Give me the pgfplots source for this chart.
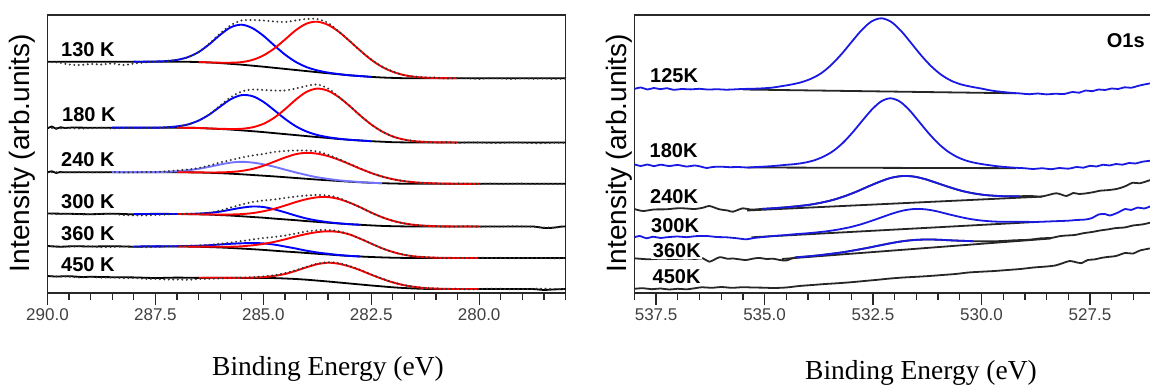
\documentclass[border=0pt]{standalone}
\usepackage{fontspec}
\setmainfont{Liberation Sans}
\newfontfamily\serifont{Liberation Serif}
\usepackage{pgfplots}
\pgfplotsset{compat=1.18}
\definecolor{myblue}{RGB}{0,0,255}
\definecolor{myred}{RGB}{255,0,0}
\definecolor{lblue}{RGB}{115,115,255}
\definecolor{oblue}{RGB}{25,25,225}
\definecolor{framec}{RGB}{40,40,40}
\pgfplotsset{
  panel/.style={
    anchor=south west, width=518pt, height=278pt, scale only axis,
    x dir=reverse, ymin=0, ymax=278,
    axis line style={line width=1.7pt, draw=framec},
    ytick=\empty, xtick pos=bottom, tick align=outside, xtick align=outside,
    major tick length=12pt, minor tick length=7pt,
    tick style={line width=1.3pt, draw=framec},
    major tick style={line width=1.3pt, draw=framec},
    minor tick style={line width=1.3pt, draw=framec},
    xticklabel style={font=\fontsize{17}{17}\selectfont, text=black!75},
  },
  bg/.style={black, line width=1.8pt, smooth},
  bl/.style={myblue, line width=1.9pt, smooth},
  rd/.style={myred, line width=1.9pt, smooth},
  env/.style={black!80, line width=2.2pt, smooth, line cap=round, dash pattern=on 0pt off 4.5pt},
  ob/.style={oblue, line width=1.8pt, smooth},
  ok/.style={black!85, line width=1.8pt, smooth},
}
\begin{document}
\begin{tikzpicture}[x=1pt,y=1pt]
\path[use as bounding box] (0,0) rectangle (1150,385);
% ================= LEFT PANEL =================
\begin{axis}[panel, at={(47.5pt,92pt)}, xmin=278, xmax=290,
  xtick={280,282.5,285,287.5,290}, xticklabels={280.0,282.5,285.0,287.5,290.0},
  minor xtick={278,278.5,...,290}]
% 130 K
\addplot[bg] coordinates {(290,231.3)(288,231.3)(287,231.3)(286.75,231.2)(286.5,230.9)(286.25,230.5)(286,229.9)(285.75,229.1)(285.5,228.3)(285.25,227.3)(285,226.3)(284.75,225.2)(284.5,224.1)(284.25,223.0)(284,221.9)(283.75,220.8)(283.5,219.7)(283.25,218.7)(283,217.7)(282.75,216.9)(282.5,216.1)(282.25,215.5)(282,215.1)(281.75,214.8)(281.5,214.7)(280,214.7)(278,214.7)};
\addplot[bl] coordinates {(288,231.3)(287.75,231.3)(287.5,231.5)(287.25,231.9)(287,233.1)(286.75,235.8)(286.5,240.9)(286.25,248.8)(286,258.2)(285.75,265.8)(285.5,268.3)(285.25,264.8)(285,257.3)(284.75,247.7)(284.5,238.5)(284.25,231.1)(284,225.9)(283.75,222.6)(283.5,220.4)(283.25,218.9)(283,217.7)(282.75,216.9)(282.5,216.1)};
\addplot[rd] coordinates {(286.5,230.9)(286.25,230.6)(286,230.3)(285.75,230.3)(285.5,230.9)(285.25,233.1)(285,237.5)(284.75,244.4)(284.5,253.4)(284.25,262.7)(284,269.4)(283.75,271.3)(283.5,268.1)(283.25,261.2)(283,251.9)(282.75,242.2)(282.5,233.2)(282.25,226.1)(282,221.2)(281.75,218.0)(281.5,216.2)(281.25,215.4)(281,215.0)(280.75,214.8)(280.5,214.7)};
\addplot[env] coordinates {(290,231.0)(289.75,230.5)(289.5,228.5)(289.25,228.0)(289,229.0)(288.75,228.5)(288.5,229.5)(288.25,228.0)(288,229.5)(287.75,230.5)(287.5,231.5)(287.25,232.0)(287,233.1)(286.75,235.8)(286.5,241.0)(286.25,249.5)(286,259.5)(285.75,268.0)(285.5,272.5)(285.25,273.0)(285,272.5)(284.75,271.5)(284.5,271.0)(284.25,272.5)(284,274.0)(283.75,274.0)(283.5,270.0)(283.25,261.4)(283,251.9)(282.75,242.2)(282.5,233.5)(282.25,226.5)(282,221.5)(281.75,218.0)(281.5,216.5)(281.25,215.5)(281,215.5)(280.75,214.5)(280.5,215.0)(280.25,214.5)(280,214.0)(279.75,214.8)(279.5,214.5)(279.25,214.0)(279,214.6)(278.75,214.2)(278.5,214.5)(278.25,214.0)(278,214.5)};
% 180 K
\addplot[bg] coordinates {(290,164.5)(289.9,166.5)(289.8,164.2)(289.7,165.8)(289.6,165.0)(289.4,165.5)(289,165.3)(287,165.3)(286.75,165.2)(286.5,165.0)(286.25,164.5)(286,164.0)(285.75,163.4)(285.5,162.6)(285.25,161.8)(285,160.9)(284.75,159.9)(284.5,158.9)(284.25,157.9)(284,156.9)(283.75,155.9)(283.5,155.0)(283.25,154.0)(283,153.2)(282.75,152.5)(282.5,151.8)(282.25,151.3)(282,150.8)(281.75,150.6)(281.5,150.5)(278,150.5)};
\addplot[bl] coordinates {(288.5,165.3)(287.5,165.4)(287.25,165.7)(287,166.6)(286.75,168.5)(286.5,172.4)(286.25,178.5)(286,186.4)(285.75,193.9)(285.5,197.9)(285.25,196.8)(285,191.2)(284.75,182.9)(284.5,174.2)(284.25,166.8)(284,161.5)(283.75,158.0)(283.5,155.8)(283.25,154.3)(283,153.2)(282.75,152.5)(282.5,151.8)};
\addplot[rd] coordinates {(287,165.3)(286.5,165.0)(286.25,164.5)(286,164.2)(285.75,164.0)(285.5,164.2)(285.25,165.7)(285,169.1)(284.75,175.2)(284.5,183.7)(284.25,193.3)(284,201.1)(283.75,204.4)(283.5,202.2)(283.25,195.8)(283,187.0)(282.75,177.3)(282.5,168.5)(282.25,161.5)(282,156.5)(281.75,153.5)(281.5,151.8)(281.25,151.1)(281,150.7)(280.5,150.5)};
\addplot[env] coordinates {(290,165.3)(289.75,164.8)(289.5,165.0)(289.25,164.5)(289,164.8)(288.75,165.2)(288.5,164.5)(288.25,165.0)(288,165.0)(287.75,164.8)(287.5,165.4)(287.25,165.7)(287,166.6)(286.75,168.5)(286.5,172.4)(286.25,178.5)(286,187.5)(285.75,196.0)(285.5,201.5)(285.25,203.5)(285,203.0)(284.75,202.5)(284.5,202.5)(284.25,204.5)(284,207.0)(283.75,208.5)(283.5,204.5)(283.25,196.1)(283,187.0)(282.75,177.3)(282.5,168.5)(282.25,161.5)(282,156.5)(281.75,153.5)(281.5,152.0)(281.25,151.0)(281,150.5)(280.75,150.8)(280.5,150.0)(280.25,150.6)(280,150.5)(279.75,150.0)(279.5,150.0)(279.25,150.5)(279,150.3)(278.75,149.8)(278.5,149.8)(278.25,150.3)(278,150.2)};
% 240 K
\addplot[bg] coordinates {(290,120.5)(289.9,121.8)(289.8,120.0)(289.7,121.0)(289.5,120.8)(287,120.8)(286.75,120.7)(286.5,120.5)(286.25,120.2)(286,119.8)(285.75,119.3)(285.5,118.7)(285.25,118.0)(285,117.3)(284.75,116.6)(284.5,115.8)(284.25,115.0)(284,114.2)(283.75,113.4)(283.5,112.7)(283.25,112.0)(283,111.3)(282.75,110.7)(282.5,110.2)(282.25,109.8)(282,109.5)(281.75,109.3)(281.5,109.2)(278,109.2)};
\addplot[lblue, line width=1.9pt, smooth] coordinates {(288.5,120.8)(287.5,120.9)(287.25,121.2)(287,121.7)(286.75,122.7)(286.5,124.2)(286.25,126.2)(286,128.5)(285.75,130.4)(285.5,131.2)(285.25,130.4)(285,128.7)(284.75,126.3)(284.5,123.4)(284.25,120.6)(284,118.0)(283.75,115.7)(283.5,114.1)(283.25,112.7)(283,111.7)(282.75,110.9)(282.5,110.2)(282.25,109.8)};
\addplot[rd] coordinates {(287,120.8)(286.5,120.6)(286.25,120.5)(286,120.6)(285.75,121.0)(285.5,122.1)(285.25,124.1)(285,127.2)(284.75,131.3)(284.5,135.4)(284.25,138.8)(284,140.2)(283.75,139.3)(283.5,136.9)(283.25,133.2)(283,128.8)(282.75,124.2)(282.5,120.0)(282.25,116.5)(282,113.8)(281.75,111.9)(281.5,110.7)(281.25,110.0)(281,109.6)(280.75,109.4)(280.5,109.2)(280,109.2)};
\addplot[env] coordinates {(290,120.5)(289.75,120.8)(289.5,120.6)(289.25,121.0)(289,120.6)(288.75,120.8)(288.5,121.0)(288.25,120.6)(288,120.7)(287.75,121.0)(287.5,121.0)(287.25,121.6)(287,122.6)(286.75,123.5)(286.5,125.0)(286.25,127.5)(286,130.5)(285.75,133.0)(285.5,135.5)(285.25,137.5)(285,139.0)(284.75,141.0)(284.5,142.0)(284.25,142.5)(284,142.5)(283.75,141.5)(283.5,138.3)(283.25,133.9)(283,129.2)(282.75,124.4)(282.5,120.0)(282.25,116.5)(282,113.8)(281.75,112.0)(281.5,110.7)(281.25,110.0)(281,109.6)(280.75,109.0)(280.5,109.5)(280.25,109.2)(280,109.0)(279.75,109.6)(279.5,109.0)(279.25,109.3)(279,109.5)(278.75,109.0)(278.5,109.2)(278.25,109.0)(278,109.3)};
% 300 K
\addplot[bg] coordinates {(290,79.5)(289.5,79.2)(289,78.8)(288.5,79.3)(288,78.7)(287.5,79.2)(287,79.0)(286.75,78.9)(286.5,78.7)(286.25,78.4)(286,77.9)(285.75,77.4)(285.5,76.7)(285.25,76.0)(285,75.3)(284.75,74.4)(284.5,73.6)(284.25,72.8)(284,71.9)(283.75,71.1)(283.5,70.3)(283.25,69.5)(283,68.8)(282.75,68.2)(282.5,67.6)(282.25,67.1)(282,66.8)(281.75,66.6)(281.5,66.5)(279,66.5)(278.7,66.3)(278.5,65.0)(278.3,65.2)(278.1,66.4)(278,66.5)};
\addplot[bl] coordinates {(288,79.0)(287,79.0)(286.75,79.1)(286.5,79.4)(286.25,80.1)(286,81.4)(285.75,83.4)(285.5,85.3)(285.25,86.5)(285,86.0)(284.75,83.7)(284.5,80.7)(284.25,77.4)(284,74.5)(283.75,72.4)(283.5,70.8)(283.25,69.7)(283,68.8)(282.75,68.2)};
\addplot[rd] coordinates {(287,79.0)(286.5,78.7)(286.25,78.6)(286,78.4)(285.75,78.5)(285.5,78.9)(285.25,79.9)(285,81.7)(284.75,84.2)(284.5,87.4)(284.25,90.9)(284,93.8)(283.75,95.7)(283.5,95.9)(283.25,94.0)(283,90.3)(282.75,85.6)(282.5,80.4)(282.25,75.8)(282,72.2)(281.75,69.7)(281.5,68.1)(281.25,67.3)(281,66.8)(280.75,66.6)(280.5,66.5)(280,66.5)};
\addplot[env] coordinates {(290,79.5)(289.75,79.0)(289.5,79.2)(289.25,78.6)(289,78.8)(288.75,79.2)(288.5,79.2)(288.25,78.0)(288,77.6)(287.75,77.5)(287.5,78.0)(287.25,78.5)(287,79.0)(286.75,79.1)(286.5,79.5)(286.25,80.3)(286,82.5)(285.75,85.5)(285.5,88.5)(285.25,91.0)(285,92.5)(284.75,93.5)(284.5,95.0)(284.25,96.5)(284,97.5)(283.75,98.0)(283.5,97.5)(283.25,95.0)(283,90.3)(282.75,85.6)(282.5,80.4)(282.25,75.8)(282,72.2)(281.75,69.7)(281.5,68.1)(281.25,67.3)(281,66.8)(280.75,66.2)(280.5,66.5)(280.25,66.8)(280,66.2)(279.75,66.5)(279.5,66.3)(279.25,66.8)(279,66.6)(278.75,66.2)(278.5,65.5)(278.25,65.6)(278,66.5)};
% 360 K
\addplot[bg] coordinates {(290,47.0)(289.7,46.3)(289.4,46.8)(289,46.5)(288.5,46.8)(288,46.3)(287.5,46.6)(287,46.5)(286.75,46.4)(286.5,46.2)(286.25,45.9)(286,45.5)(285.75,45.0)(285.5,44.4)(285.25,43.8)(285,43.1)(284.75,42.3)(284.5,41.5)(284.25,40.8)(284,40.0)(283.75,39.2)(283.5,38.5)(283.25,37.7)(283,37.1)(282.75,36.5)(282.5,36.0)(282.25,35.6)(282,35.3)(281.75,35.1)(281.5,35.0)(278,35.0)};
\addplot[bl] coordinates {(288,46.5)(287,46.8)(286.75,47.0)(286.5,47.3)(286.25,47.8)(286,48.5)(285.75,49.2)(285.5,49.7)(285.25,50.0)(285,49.6)(284.75,48.4)(284.5,46.5)(284.25,44.5)(284,42.3)(283.75,40.5)(283.5,39.2)(283.25,38.0)(283,37.1)(282.75,36.5)};
\addplot[rd] coordinates {(287,46.5)(286.5,46.4)(286.25,46.3)(286,46.2)(285.75,46.3)(285.5,46.7)(285.25,47.7)(285,49.1)(284.75,51.1)(284.5,53.6)(284.25,56.5)(284,59.0)(283.75,60.9)(283.5,61.7)(283.25,61.0)(283,58.5)(282.75,54.2)(282.5,49.4)(282.25,44.7)(282,41.0)(281.75,38.3)(281.5,36.6)(281.25,35.8)(281,35.3)(280.75,35.1)(280.5,35.0)(280,35.0)};
\addplot[env] coordinates {(290,46.8)(289.75,46.2)(289.5,46.3)(289.25,46.8)(289,46.6)(288.75,45.8)(288.5,46.0)(288.25,46.5)(288,46.3)(287.75,45.8)(287.5,46.0)(287.25,46.5)(287,46.8)(286.75,47.2)(286.5,47.5)(286.25,48.2)(286,49.2)(285.75,50.5)(285.5,52.0)(285.25,53.5)(285,55.0)(284.75,56.0)(284.5,57.5)(284.25,59.5)(284,61.5)(283.75,62.8)(283.5,63.0)(283.25,61.8)(283,58.5)(282.75,54.2)(282.5,49.4)(282.25,44.7)(282,41.0)(281.75,38.3)(281.5,36.6)(281.25,35.8)(281,35.5)(280.75,34.8)(280.5,35.2)(280.25,34.9)(280,35.3)(279.75,34.9)(279.5,35.2)(279.25,34.7)(279,35.2)(278.75,34.8)(278.5,35.0)(278.25,34.6)(278,35.0)};
% 450 K
\addplot[bg] coordinates {(290,17.0)(289.8,16.5)(289.5,16.8)(289.2,16.0)(289,16.2)(288.5,15.8)(288,15.6)(287.5,15.0)(287,15.4)(286.5,15.1)(286,15.2)(285.5,15.1)(285,15.0)(284.75,14.9)(284.5,14.5)(284.25,14.0)(284,13.3)(283.75,12.4)(283.5,11.5)(283.25,10.5)(283,9.5)(282.75,8.5)(282.5,7.5)(282.25,6.6)(282,5.7)(281.75,5.0)(281.5,4.5)(281.25,4.1)(281,4.0)(279,4.0)(278.7,3.8)(278.5,3.0)(278.3,3.5)(278,4.0)};
\addplot[rd] coordinates {(286.5,15.3)(286,15.2)(285.5,15.2)(285.25,15.4)(285,15.9)(284.75,17.1)(284.5,19.0)(284.25,22.1)(284,25.7)(283.75,28.8)(283.5,30.3)(283.25,29.2)(283,26.5)(282.75,22.7)(282.5,18.3)(282.25,14.2)(282,10.6)(281.75,7.9)(281.5,6.1)(281.25,4.9)(281,4.4)(280.75,4.1)(280.5,4.0)(280,4.0)};
\addplot[env] coordinates {(290,17.0)(289.75,16.5)(289.5,16.3)(289.25,15.5)(289,16.0)(288.75,15.3)(288.5,15.5)(288.25,14.8)(288,15.0)(287.75,14.2)(287.5,14.0)(287.25,13.5)(287,13.5)(286.75,13.2)(286.5,14.0)(286.25,14.2)(286,14.5)(285.75,15.0)(285.5,15.3)(285.25,15.8)(285,16.5)(284.75,17.8)(284.5,19.8)(284.25,22.8)(284,26.2)(283.75,29.3)(283.5,30.8)(283.25,29.8)(283,27.0)(282.75,23.0)(282.5,18.5)(282.25,14.3)(282,10.8)(281.75,8.0)(281.5,6.3)(281.25,5.0)(281,4.6)(280.75,4.0)(280.5,4.2)(280.25,3.6)(280,3.8)(279.75,4.3)(279.5,4.2)(279.25,3.7)(279,3.9)(278.75,4.2)(278.5,4.3)(278.25,3.8)(278,4.0)};
\end{axis}
% ================= RIGHT PANEL =================
\begin{axis}[panel, at={(634.4pt,92pt)}, xmin=526.06, xmax=538,
  xtick={527.5,530,532.5,535,537.5}, xticklabels={527.5,530.0,532.5,535.0,537.5},
  minor xtick={526.5,527,...,538}]
% 125K
\addplot[ok] coordinates {(535.5,203.5)(529.2,199.7)};
\addplot[ob] coordinates {(538,204.0)(537.85,205.5)(537.7,203.5)(537.55,205.0)(537.4,203.8)(537.25,204.8)(537.1,203.2)(536.9,204.0)(536.7,203.6)(536.5,204.2)(536.3,203.4)(536.1,203.8)(535.9,203.3)(535.7,203.6)(535.53,204.0)(535.30,204.2)(535.07,204.6)(534.84,205.3)(534.61,206.8)(534.38,208.5)(534.15,210.8)(533.92,214.4)(533.69,219.9)(533.46,228.2)(533.23,238.7)(533.00,250.7)(532.77,262.5)(532.54,271.4)(532.31,274.7)(532.08,271.1)(531.85,261.9)(531.62,249.9)(531.39,237.6)(531.16,226.8)(530.93,218.3)(530.70,212.3)(530.47,208.6)(530.24,206.3)(530.01,204.5)(529.78,202.5)(529.55,201.2)(529.32,200.2)(529.09,199.5)(528.9,198.8)(528.7,199.5)(528.5,198.6)(528.3,199.3)(528.1,199.0)(527.9,201.0)(527.75,200.3)(527.6,202.5)(527.45,201.8)(527.3,203.5)(527.15,203.0)(527.0,204.5)(526.85,204.0)(526.7,205.7)(526.55,205.2)(526.4,207.0)(526.25,208.5)(526.06,210.0)};
% 180K
\addplot[ok] coordinates {(535.4,125.5)(529.2,124.8)};
\addplot[ob] coordinates {(538,128.7)(537.85,127.0)(537.7,128.5)(537.55,126.8)(537.4,128.3)(537.2,127.0)(537.0,128.0)(536.8,126.5)(536.6,127.5)(536.45,126.2)(536.33,125.0)(536.2,126.0)(536.0,126.3)(535.8,125.8)(535.6,126.0)(535.4,125.5)(535.18,126.0)(534.96,126.5)(534.74,127.2)(534.52,128.1)(534.30,128.9)(534.08,130.3)(533.86,132.6)(533.64,136.4)(533.42,141.9)(533.20,149.9)(532.98,160.1)(532.76,171.6)(532.54,182.8)(532.32,191.4)(532.10,194.7)(531.88,191.4)(531.66,182.8)(531.44,171.4)(531.22,159.9)(531.00,149.7)(530.78,141.7)(530.56,136.0)(530.34,132.2)(530.12,129.9)(529.90,128.3)(529.68,127.0)(529.46,126.0)(529.24,125.3)(529.02,124.8)(528.8,124.0)(528.6,124.8)(528.4,123.8)(528.2,125.0)(528.0,124.3)(527.8,126.0)(527.65,125.3)(527.5,127.2)(527.35,126.5)(527.2,128.3)(527.05,127.5)(526.9,129.0)(526.75,128.3)(526.6,130.0)(526.45,129.5)(526.3,131.2)(526.06,132.5)};
% 240K
\addplot[ok] coordinates {(538,84.0)(537.8,82.0)(537.55,83.5)(537.26,83.7)(537.05,84.6)(536.88,84.7)(536.6,84.0)(536.4,85.5)(536.27,87.0)(536.04,83.7)(535.85,82.5)(535.73,81.3)(535.5,84.7)(535.32,83.4)(535.05,84.1)(534.78,84.8)(534.51,85.7)(534.24,86.8)(533.97,88.2)(533.70,90.3)(533.43,93.0)(533.16,96.7)(532.89,101.2)(532.62,106.3)(532.35,111.2)(532.08,115.2)(531.81,117.0)(531.54,116.3)(531.27,113.5)(531.00,109.6)(530.73,105.7)(530.46,102.2)(530.19,99.7)(529.92,98.0)(529.65,97.1)(529.38,96.7)(529.11,96.8)(528.84,97.0)(528.66,96.3)(528.5,97.5)(528.27,99.7)(528.04,97.0)(527.89,100.0)(527.75,99.0)(527.58,99.7)(527.4,101.0)(527.27,102.3)(527.1,102.8)(526.89,104.0)(526.7,106.5)(526.51,110.3)(526.35,109.7)(526.06,113.7)};
\addplot[ok] coordinates {(535.4,82.5)(528.6,96.4)};
\addplot[ob] coordinates {(535.05,84.1)(534.78,84.8)(534.51,85.7)(534.24,86.8)(533.97,88.2)(533.70,90.3)(533.43,93.0)(533.16,96.7)(532.89,101.2)(532.62,106.3)(532.35,111.2)(532.08,115.2)(531.81,117.0)(531.54,116.3)(531.27,113.5)(531.00,109.6)(530.73,105.7)(530.46,102.2)(530.19,99.7)(529.92,98.0)(529.65,97.1)(529.38,96.7)(529.11,96.8)};
% 300K
\addplot[ok] coordinates {(535.3,55.7)(528.8,70.9)};
\addplot[ob] coordinates {(538,55.7)(537.88,57.0)(537.72,54.7)(537.57,56.3)(537.4,55.0)(537.26,55.7)(537.0,56.5)(536.8,55.8)(536.6,56.8)(536.34,57.0)(536.1,56.0)(535.88,55.7)(535.65,54.8)(535.42,53.7)(535.25,55.0)(535.05,55.9)(534.80,57.0)(534.55,57.8)(534.30,58.8)(534.05,59.6)(533.80,60.6)(533.55,61.8)(533.30,63.5)(533.05,65.6)(532.80,68.4)(532.55,71.9)(532.30,75.7)(532.05,79.5)(531.80,82.5)(531.55,84.0)(531.30,83.7)(531.05,81.9)(530.80,79.2)(530.55,76.6)(530.30,74.3)(530.05,72.7)(529.80,71.7)(529.55,71.2)(529.30,71.2)(529.05,71.3)(528.8,71.0)(528.58,71.3)(528.3,71.8)(528.0,72.3)(527.81,73.0)(527.6,73.5)(527.45,75.0)(527.3,78.5)(527.15,79.0)(527.04,77.5)(526.85,80.5)(526.69,84.0)(526.55,83.0)(526.4,85.5)(526.25,84.5)(526.06,87.5)};
% 360K
\addplot[ok] coordinates {(538,34.7)(537.8,34.0)(537.65,33.7)(537.4,34.3)(537.1,34.0)(536.8,34.5)(536.6,34.0)(536.42,34.7)(536.27,31.3)(536.04,35.7)(535.85,34.2)(535.73,34.5)(535.55,33.5)(535.42,33.0)(535.25,34.5)(535.11,35.0)(534.95,34.0)(534.8,34.3)(534.65,33.0)(534.5,32.5)(534.30,35.5)(534.03,36.5)(533.75,37.7)(533.48,39.1)(533.20,40.7)(532.93,42.7)(532.65,44.9)(532.38,47.3)(532.10,49.7)(531.83,51.7)(531.55,53.0)(531.28,53.5)(531.00,53.3)(530.73,52.7)(530.45,52.2)(530.18,51.8)(529.90,51.6)(529.63,51.8)(529.4,52.3)(529.2,52.8)(529.0,53.0)(528.81,53.7)(528.6,54.8)(528.4,55.0)(528.2,56.8)(528.04,57.5)(527.85,58.0)(527.65,59.8)(527.45,61.0)(527.27,62.5)(527.1,63.5)(526.89,65.0)(526.7,65.5)(526.51,67.5)(526.3,68.5)(526.06,70.8)};
\addplot[ok] coordinates {(534.6,34.0)(528.4,54.5)};
\addplot[ob] coordinates {(534.30,35.5)(534.03,36.5)(533.75,37.7)(533.48,39.1)(533.20,40.7)(532.93,42.7)(532.65,44.9)(532.38,47.3)(532.10,49.7)(531.83,51.7)(531.55,53.0)(531.28,53.5)(531.00,53.3)(530.73,52.7)(530.45,52.2)(530.18,51.8)};
% 450K
\addplot[ok] coordinates {(538,4.2)(537.8,4.8)(537.6,3.8)(537.4,4.5)(537.2,3.5)(537.0,4.2)(536.8,3.7)(536.6,4.8)(536.45,5.7)(536.2,5.2)(536.0,6.0)(535.75,5.2)(535.5,5.8)(535.27,5.5)(535.0,5.3)(534.8,5.0)(534.5,5.5)(534.2,7.0)(533.9,8.0)(533.6,9.0)(533.3,9.8)(533.0,10.8)(532.7,12.0)(532.4,13.2)(532.1,14.5)(531.8,15.5)(531.5,16.2)(531.2,17.0)(530.9,18.0)(530.6,19.0)(530.3,20.5)(530.0,21.3)(529.7,22.0)(529.4,23.0)(529.1,24.0)(528.8,25.5)(528.5,26.5)(528.3,27.5)(528.15,29.5)(527.96,32.0)(527.8,30.5)(527.7,29.8)(527.55,33.0)(527.4,33.5)(527.25,35.0)(527.1,36.0)(526.9,37.0)(526.69,40.0)(526.5,39.5)(526.35,42.5)(526.06,45.0)};
\end{axis}
% ================= TEXT =================
\begin{scope}[every node/.style={inner sep=0pt, font=\fontsize{20}{20}\selectfont\bfseries, anchor=west}]
\node at (61,335) {130 K};
\node at (62,270) {180 K};
\node at (61,225.7) {240 K};
\node at (61,183.3) {300 K};
\node at (61,151.7) {360 K};
\node at (61,120) {450 K};
\node at (650,309) {125K};
\node at (649.5,234) {180K};
\node at (650,188.3) {240K};
\node at (651,159.3) {300K};
\node[fill=white, inner sep=1.5pt] at (651.2,134.3) {360K};
\node at (652.5,108.3) {450K};
\node at (1106.7,344.3) {O1s};
\end{scope}
\node[rotate=90, font=\fontsize{28}{28}\selectfont] at (22,232) {Intensity (arb.units)};
\node[rotate=90, font=\fontsize{28}{28}\selectfont] at (619,232) {Intensity (arb.units)};
\node[font=\serifont\fontsize{27.5}{27.5}\selectfont] at (328,16) {Binding Energy (eV)};
\node[font=\serifont\fontsize{27.5}{27.5}\selectfont] at (921,12.5) {Binding Energy (eV)};
\end{tikzpicture}
\end{document}
